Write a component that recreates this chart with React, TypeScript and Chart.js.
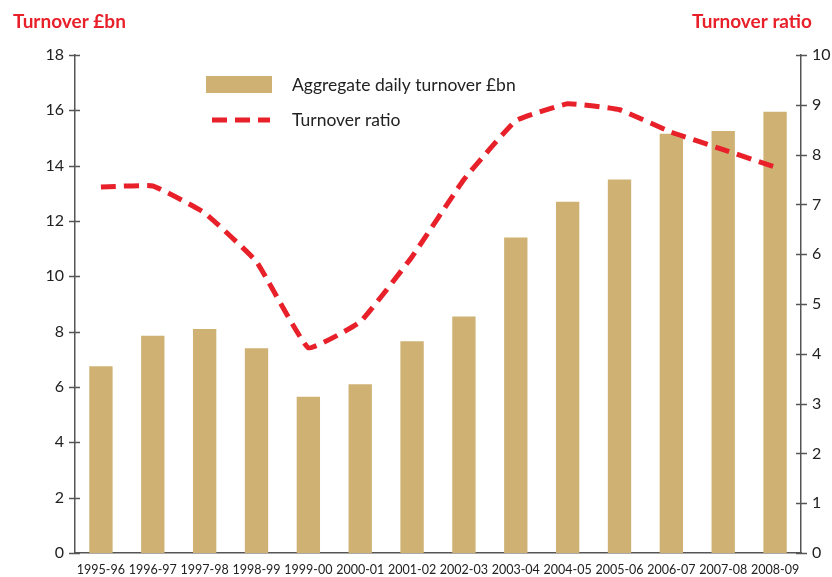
import React, { useEffect, useRef } from "react";
import { Chart, registerables } from "chart.js";

Chart.register(...registerables);

const categories = [
  "1995-96", "1996-97", "1997-98", "1998-99", "1999-00", "2000-01", "2001-02",
  "2002-03", "2003-04", "2004-05", "2005-06", "2006-07", "2007-08", "2008-09",
];
const turnoverBn = [6.75, 7.85, 8.1, 7.4, 5.65, 6.1, 7.65, 8.55, 11.4, 12.7, 13.5, 15.15, 15.25, 15.95];
const turnoverRatio = [7.35, 7.37, 6.83, 5.85, 4.12, 4.64, 5.95, 7.5, 8.68, 9.02, 8.9, 8.45, 8.1, 7.75];
const leftTicks = [0, 2, 4, 6, 8, 10, 12, 14, 16, 18];
const rightTicks = [0, 1, 2, 3, 4, 5, 6, 7, 8, 9, 10];

const BAR_COLOR = "#CFB173";
const RED = "#E8202A";
const AXIS = "#555555";
const FONT = "Lato, 'Open Sans', sans-serif";

const overlayPlugin = {
  id: "overlay",
  afterDraw(chart: any) {
    const ctx = chart.ctx;
    const ca = chart.chartArea;
    const yL = chart.scales.y;
    const yR = chart.scales.y1;
    ctx.save();
    // crossing tick marks
    ctx.strokeStyle = AXIS;
    ctx.lineWidth = 1.5;
    leftTicks.forEach((v) => {
      const y = Math.round(yL.getPixelForValue(v)) + 0.5;
      ctx.beginPath();
      ctx.moveTo(ca.left - 6, y);
      ctx.lineTo(ca.left + 5, y);
      ctx.stroke();
    });
    rightTicks.forEach((v) => {
      const y = Math.round(yR.getPixelForValue(v)) + 0.5;
      ctx.beginPath();
      ctx.moveTo(ca.right - 5, y);
      ctx.lineTo(ca.right + 6, y);
      ctx.stroke();
    });
    // titles
    ctx.fillStyle = RED;
    ctx.font = `bold 19px ${FONT}`;
    ctx.textBaseline = "middle";
    ctx.textAlign = "left";
    ctx.fillText("Turnover £bn", 13, 22);
    ctx.textAlign = "right";
    ctx.fillText("Turnover ratio", 812, 22);
    // legend
    ctx.textAlign = "left";
    ctx.fillStyle = BAR_COLOR;
    ctx.fillRect(206, 76, 66, 17);
    ctx.strokeStyle = RED;
    ctx.lineWidth = 5;
    ctx.setLineDash([15, 8]);
    ctx.beginPath();
    ctx.moveTo(212, 120);
    ctx.lineTo(270, 120);
    ctx.stroke();
    ctx.setLineDash([]);
    ctx.fillStyle = "#222222";
    ctx.font = `17.5px ${FONT}`;
    ctx.fillText("Aggregate daily turnover £bn", 292, 85);
    ctx.fillText("Turnover ratio", 292, 120);
    ctx.restore();
  },
};

export default function App() {
  const ref = useRef<HTMLCanvasElement>(null);
  useEffect(() => {
    document.body.style.margin = "0";
    const chart = new Chart(ref.current!, {
      type: "bar",
      data: {
        labels: categories,
        datasets: [
          {
            type: "line",
            label: "Turnover ratio",
            data: turnoverRatio,
            yAxisID: "y1",
            borderColor: RED,
            borderWidth: 5,
            borderDash: [15, 8],
            borderCapStyle: "butt",
            borderJoinStyle: "miter",
            pointRadius: 0,
            tension: 0.1,
            fill: false,
            order: 0,
          } as any,
          {
            type: "bar",
            label: "Aggregate daily turnover £bn",
            data: turnoverBn,
            yAxisID: "y",
            backgroundColor: BAR_COLOR,
            barPercentage: 0.45,
            categoryPercentage: 1,
            order: 1,
          },
        ],
      },
      options: {
        animation: false,
        responsive: false,
        maintainAspectRatio: false,
        layout: { padding: { top: 55, left: 0, right: 0, bottom: 0 } },
        plugins: { legend: { display: false }, tooltip: { enabled: false } },
        scales: {
          x: {
            offset: true,
            grid: { display: false, drawTicks: false },
            border: { display: true, color: AXIS, width: 1.5 },
            ticks: {
              color: "#222222",
              font: { family: FONT, size: 12.5 },
              padding: 9,
              maxRotation: 0,
              autoSkip: false,
            },
            afterFit: (s: any) => { s.height = 24; },
          },
          y: {
            position: "left",
            min: 0,
            max: 18,
            grid: { display: false, drawTicks: false },
            border: { display: true, color: AXIS, width: 1.5 },
            ticks: {
              stepSize: 2,
              color: "#222222",
              font: { family: FONT, size: 16 },
              padding: 11,
            },
            afterFit: (s: any) => { s.width = 75; },
          },
          y1: {
            position: "right",
            min: 0,
            max: 10,
            grid: { display: false, drawTicks: false },
            border: { display: true, color: AXIS, width: 1.5 },
            ticks: {
              stepSize: 1,
              color: "#222222",
              font: { family: FONT, size: 16 },
              padding: 11,
            },
            afterFit: (s: any) => { s.width = 31; },
          },
        },
      },
      plugins: [overlayPlugin],
    });
    return () => chart.destroy();
  }, []);
  return (
    <div style={{ width: 832, height: 577 }}>
      <canvas ref={ref} width={832} height={577} />
    </div>
  );
}
